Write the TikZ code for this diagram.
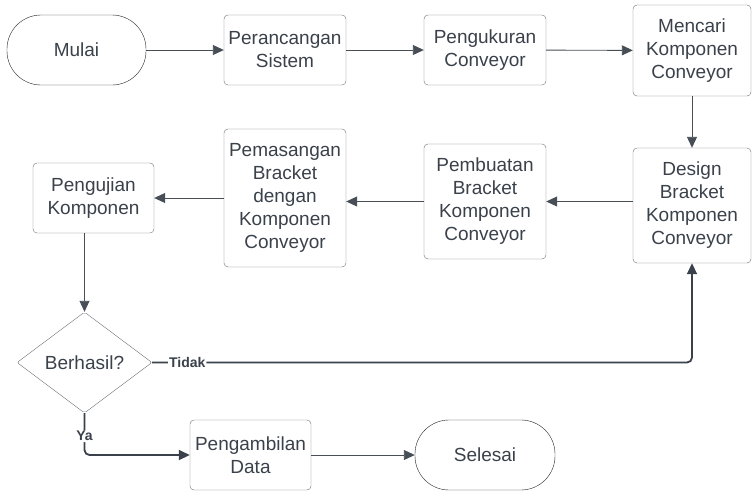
\documentclass[tikz,border=0pt]{standalone}
\usepackage{fontspec}
\setmainfont{Liberation Sans}
\usepackage{tikz}
\usetikzlibrary{positioning, arrows.meta, shapes.geometric}

\definecolor{ink}{RGB}{58,65,74}
\definecolor{boxline}{RGB}{108,112,118}
\definecolor{wire}{RGB}{72,78,86}

\begin{document}
\begin{tikzpicture}[
  x = 1pt,
  y = -1pt,
  font = \fontsize{19}{23}\selectfont,
  process/.style = {
    draw = boxline,
    rounded corners = 4pt,
    align = center,
    text = ink,
    inner sep = 2pt,
    minimum width = 122pt,
    minimum height = 70pt
  },
  terminal/.style = {
    draw = black!85,
    rounded corners = 34pt,
    text = ink,
    minimum width = 139pt,
    minimum height = 70pt
  },
  decision/.style = {
    diamond,
    draw = boxline,
    rounded corners = 2pt,
    text = ink,
    inner sep = 0pt,
    minimum width = 135pt,
    minimum height = 101pt
  },
  connection/.style = {
    -{Triangle[length=11pt, width=10pt]},
    wire,
    line width = 0.9pt
  },
  branch/.style = {
    connection,
    ink,
    line width = 1.8pt,
    rounded corners = 5pt
  },
  answer/.style = {
    fill = white,
    text = ink,
    inner sep = 1pt,
    font = \fontsize{14}{16}\selectfont\bfseries
  },
  ]
  \useasboundingbox (0, 0) rectangle (752, 491);

  % Top row.
  \node[terminal] (start) at (76.5, 50) {Mulai};
  \node[process] (plan) at (285, 50) {Perancangan\\Sistem};
  \node[process] (measure) at (485, 50) {Pengukuran\\Conveyor};
  \node[process, minimum width=118pt, minimum height=91pt] (search)
    at (692, 50.5) {Mencari\\Komponen\\Conveyor};

  % Middle row.
  \node[process, minimum width=118pt, minimum height=115pt] (design)
    at (692, 205.5) {Design\\Bracket\\Komponen\\Conveyor};
  \node[process, minimum height=115pt] (make)
    at (485, 201.5) {Pembuatan\\Bracket\\Komponen\\Conveyor};
  \node[process, minimum height=138pt] (mount)
    at (285, 198) {Pemasangan\\Bracket\\dengan\\Komponen\\Conveyor};
  \node[process, minimum width=121pt] (test) at (93.5, 198) {Pengujian\\Komponen};

  % Decision and end.
  \node[decision] (check) at (84.5, 362.5) {Berhasil?};
  \node[process, minimum width=121pt] (data) at (250.5, 455) {Pengambilan\\Data};
  \node[terminal, minimum width=140pt] (finish) at (485, 455) {Selesai};

  % Straight connections.
  \foreach \source/\dest in {start/plan, plan/measure, measure/search,
    search/design, mount/test, data/finish} {
    \path[connection] (\source) edge (\dest);
  }
  \draw[connection] (design.west |- make.east) -- (make.east);
  \draw[connection] (make.west) -- (mount.east |- make.west);
  \draw[connection] (test.south -| check.north) -- (check.north);

  % Branches of the decision.
  \draw[branch] (check.east) -- (check.east -| design.south)
    node[answer, pos=0.065] {Tidak} -- (design.south);
  \draw[branch] (check.south) -- (check.south |- data.west)
    node[answer, pos=0.55] {Ya} -- (data.west);
\end{tikzpicture}
\end{document}
